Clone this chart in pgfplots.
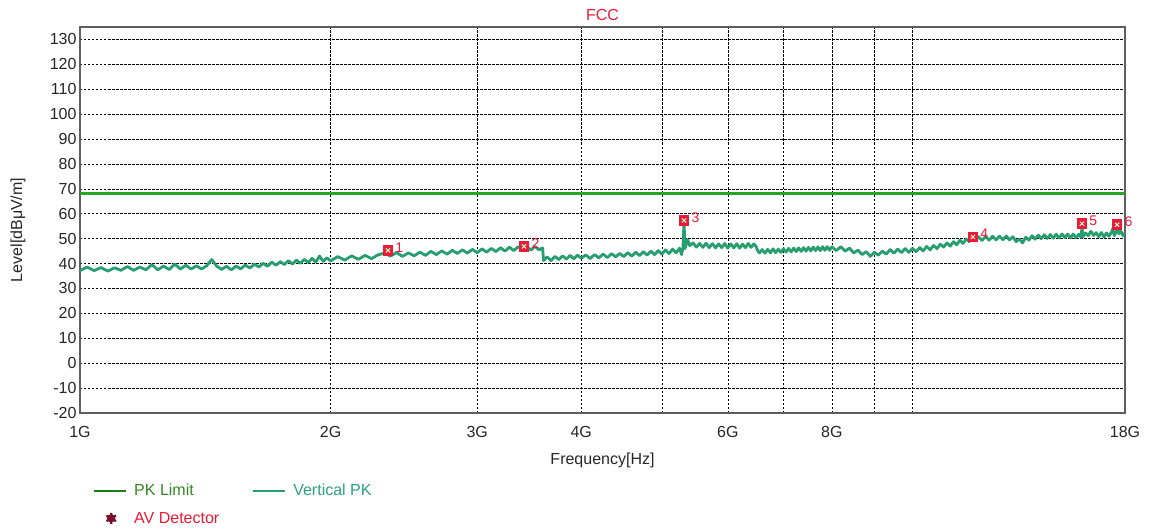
\documentclass[border=0pt]{standalone}
\usepackage{pgfplots}
\pgfplotsset{compat=1.18}
\usepackage{fontspec}
\setmainfont{Liberation Sans}
\newcommand\ff{\fontsize{16pt}{19pt}\selectfont}
\newcommand\fs{\fontsize{14pt}{16pt}\selectfont}
\definecolor{limgreen}{RGB}{40,165,40}
\definecolor{limleg}{RGB}{20,125,20}
\definecolor{limtext}{RGB}{50,135,35}
\definecolor{trace}{RGB}{38,158,112}
\definecolor{tracetext}{RGB}{45,160,130}
\definecolor{mkred}{RGB}{238,25,55}
\definecolor{avmaroon}{RGB}{120,15,45}
\definecolor{framegray}{RGB}{95,95,95}
\pgfplotsset{
  lineleg/.style={legend image code/.code={\draw[##1, line width=2pt] (0pt,0pt) -- (32pt,0pt);}},
  markleg/.style={legend image code/.code={\fill[avmaroon] (17pt,0pt) circle (3pt); \draw[##1] plot coordinates {(17pt,0pt)};}},
}
\begin{document}
\begin{tikzpicture}
\path[use as bounding box] (0pt,0pt) rectangle (1149pt,531pt);
\begin{axis}[
  at={(80pt,118pt)}, anchor=south west,
  width=1045pt, height=386pt, scale only axis,
  xmode=log, log basis x=10,
  xmin=1, xmax=18, ymin=-20, ymax=135,
  xtick={1,2,3,4,5,6,7,8,9,10,18},
  xticklabels={1G,2G,3G,4G,,6G,,8G,,,18G},
  ytick={-20,-10,0,10,20,30,40,50,60,70,80,90,100,110,120,130},
  minor xtick={}, xminorgrids=false,
  major tick length=0pt,
  /pgf/number format/assume math mode=true,
  grid=major,
  major grid style={black, line width=0.6pt, dash pattern=on 2.5pt off 1.5pt},
  axis line style={framegray, line width=1.3pt},
  tick label style={font=\ff, text=black!85},
  xticklabel style={yshift=-10pt},
  title={FCC},
  title style={font=\ff, text=mkred, at={(0.5,1)}, anchor=base, yshift=0pt, inner sep=0pt},
  xlabel={Frequency[Hz]},
  xlabel style={font=\ff, text=black!85, at={(axis description cs:0.5,-0.122)}, anchor=center},
  ylabel={Level[dBμV/m]},
  ylabel style={font=\ff, text=black!85, at={(axis description cs:-0.0593,0.474)}, anchor=center},
  legend columns=2,
  legend cell align=left,
  legend style={at={(axis description cs:0.0096,-0.173)}, anchor=north west, draw=none, fill=none, font=\ff,
    /tikz/every odd column/.append style={column sep=5pt},
    /tikz/every even column/.append style={column sep=31pt},
    row sep=11pt},
  lineleg,
]
% PK limit
\addplot[limgreen, line width=2.4pt, legend image post style={limleg}] coordinates {(1,68.2) (18,68.2)};
\addlegendentry{\textcolor{limtext}{PK Limit}}
% Vertical PK trace
\addplot[trace, line width=2.8pt, line join=round] coordinates {
(1.00,37.2) (1.02,38.6) (1.04,37.2) (1.06,38.4) (1.08,37.0) (1.10,38.3) (1.12,37.3) (1.14,38.8)
(1.16,37.3) (1.18,38.6) (1.20,37.5) (1.22,39.6) (1.24,37.5) (1.26,39.0) (1.28,37.6) (1.30,39.8)
(1.32,37.8) (1.34,39.3) (1.36,37.8) (1.38,39.1) (1.40,37.8) (1.42,39.2) (1.44,41.6) (1.46,38.9)
(1.48,37.7) (1.50,38.9) (1.52,37.5) (1.54,39.0) (1.56,37.9) (1.58,39.4) (1.60,38.2) (1.62,39.8)
(1.64,38.6) (1.66,40.1) (1.68,38.9) (1.70,40.6) (1.72,39.3) (1.74,40.8) (1.76,39.6) (1.78,41.2)
(1.80,39.8) (1.82,41.4) (1.84,40.1) (1.86,41.7) (1.88,40.4) (1.90,42.1) (1.92,40.6) (1.94,43.0)
(1.96,40.9) (1.98,42.3) (2.00,41.1)
(2.04,42.8) (2.08,41.4) (2.12,43.1) (2.16,41.7) (2.20,43.3) (2.24,42.0) (2.28,43.5) (2.32,44.2)
(2.36,43.0) (2.40,44.4) (2.44,42.9) (2.48,44.3) (2.52,43.1) (2.56,44.6) (2.60,43.3) (2.64,44.9)
(2.68,43.6) (2.72,45.1) (2.76,43.8) (2.80,45.3) (2.84,44.1) (2.88,45.5) (2.92,44.2) (2.96,45.7)
(3.00,44.4) (3.04,45.9) (3.08,44.6) (3.12,46.1) (3.16,44.8) (3.20,46.4) (3.24,45.0) (3.28,46.6)
(3.32,45.2) (3.36,46.8) (3.40,45.6) (3.44,47.0) (3.48,45.4) (3.52,46.9) (3.56,45.5) (3.595,46.3)
(3.605,41.2) (3.64,42.7) (3.68,41.2) (3.72,42.9) (3.76,41.6) (3.80,43.1) (3.84,41.8) (3.88,43.3)
(3.92,41.9) (3.96,43.4) (4.00,42.1)
(4.05,43.5) (4.10,42.0) (4.15,43.6) (4.20,42.3) (4.25,43.8) (4.30,42.4) (4.35,44.0) (4.40,42.7)
(4.45,44.1) (4.50,42.8) (4.55,44.4) (4.60,43.0) (4.65,44.6) (4.70,43.2) (4.75,44.8) (4.80,43.4)
(4.85,45.0) (4.90,43.6) (4.95,45.2) (5.00,43.8) (5.05,45.5) (5.10,44.0) (5.15,45.8) (5.20,44.3)
(5.25,46.2) (5.28,43.6) (5.30,46.3) (5.316,56.8) (5.33,46.0) (5.37,49.6) (5.40,47.2) (5.45,48.3)
(5.50,46.6) (5.55,48.1) (5.60,46.5) (5.65,48.2) (5.70,46.4) (5.75,48.0) (5.80,46.3) (5.85,47.9)
(5.90,46.4) (5.95,48.1) (6.00,46.2) (6.05,47.9) (6.10,46.3) (6.15,48.0) (6.20,46.2) (6.25,47.8)
(6.30,46.4) (6.35,48.1) (6.40,46.5) (6.45,47.9) (6.49,46.8) (6.52,45.0) (6.55,44.3) (6.60,45.6)
(6.65,44.2) (6.70,45.7) (6.75,44.3) (6.80,45.9) (6.85,44.4) (6.90,45.8) (6.95,44.5) (7.00,46.0)
(7.05,44.6) (7.10,46.1) (7.15,44.7) (7.20,46.2) (7.25,44.8) (7.30,46.3) (7.35,44.9) (7.40,46.4)
(7.45,45.0) (7.50,46.5) (7.55,45.1) (7.60,46.6) (7.65,45.2) (7.70,46.7) (7.75,45.2) (7.80,46.8)
(7.85,45.3) (7.90,46.8) (7.95,45.4) (8.00,46.7)
(8.10,45.2) (8.20,46.8) (8.30,45.0) (8.40,46.2) (8.50,44.3) (8.60,45.4) (8.70,43.6) (8.80,44.8)
(8.90,42.9) (9.00,44.5) (9.10,43.4) (9.20,45.0) (9.30,43.8) (9.40,45.6) (9.50,44.2) (9.60,45.8)
(9.70,44.4) (9.80,46.0) (9.90,44.5) (10.00,46.1) (10.10,44.8) (10.20,46.4) (10.30,45.1) (10.40,46.9)
(10.50,45.5) (10.60,47.3) (10.70,46.0) (10.80,47.8) (10.90,46.6) (11.00,48.3) (11.10,47.0) (11.20,48.8)
(11.30,47.5) (11.40,49.4) (11.50,48.1) (11.60,49.9) (11.70,48.8) (11.80,50.5) (11.90,49.2) (12.00,50.8)
(12.12,49.3) (12.24,50.9) (12.36,49.4) (12.48,51.0) (12.60,49.5) (12.72,51.0) (12.84,49.6) (12.96,51.1)
(13.08,49.5) (13.20,50.8) (13.32,48.8) (13.44,49.8) (13.56,48.3) (13.68,50.6) (13.80,49.4) (13.92,51.2)
(14.04,49.8) (14.16,51.4) (14.28,50.0) (14.40,51.6) (14.52,50.1) (14.64,51.7) (14.76,50.2) (14.88,51.8)
(15.00,50.3) (15.12,51.9) (15.24,50.4) (15.36,51.8) (15.48,50.3) (15.60,51.9) (15.72,50.4) (15.84,51.8)
(15.94,50.5) (15.98,54.8) (16.02,50.7) (16.14,52.3) (16.26,51.2) (16.38,53.0) (16.50,51.3) (16.62,52.4)
(16.74,50.8) (16.86,52.5) (16.98,50.6) (17.10,52.3) (17.22,51.0) (17.34,52.6) (17.40,54.0) (17.48,51.2)
(17.58,53.0) (17.62,54.8) (17.70,51.9) (17.80,53.0) (17.90,51.2) (18.00,52.3)
};
\addlegendentry{\textcolor{tracetext}{Vertical PK}}
% AV detector (legend only)
\addlegendimage{only marks, mark=asterisk, mark size=5.5pt, line width=2.2pt, avmaroon, markleg}
\addlegendentry{\textcolor{mkred}{AV Detector}}
% Peak markers
\addplot[only marks, mark=square*, mark size=4.8pt, mkred, mark options={fill=mkred, draw=mkred, rounded corners=1.5pt}, line width=1pt, forget plot]
  coordinates {(2.344,45.3) (3.415,46.9) (5.316,57.3) (11.82,50.7) (15.98,56.0) (17.61,55.6)};
\addplot[only marks, mark=x, mark size=3pt, white!80!green, line width=1pt, forget plot,
  point meta=explicit symbolic, nodes near coords,
  every node near coord/.append style={font=\fs, text=mkred, anchor=west, xshift=7pt, yshift=3pt, inner sep=0pt}]
  coordinates {(2.344,45.3) [1] (3.415,46.9) [2] (5.316,57.3) [3] (11.82,50.7) [4] (15.98,56.0) [5] (17.61,55.6) [6]};
\end{axis}
\end{tikzpicture}
\end{document}
